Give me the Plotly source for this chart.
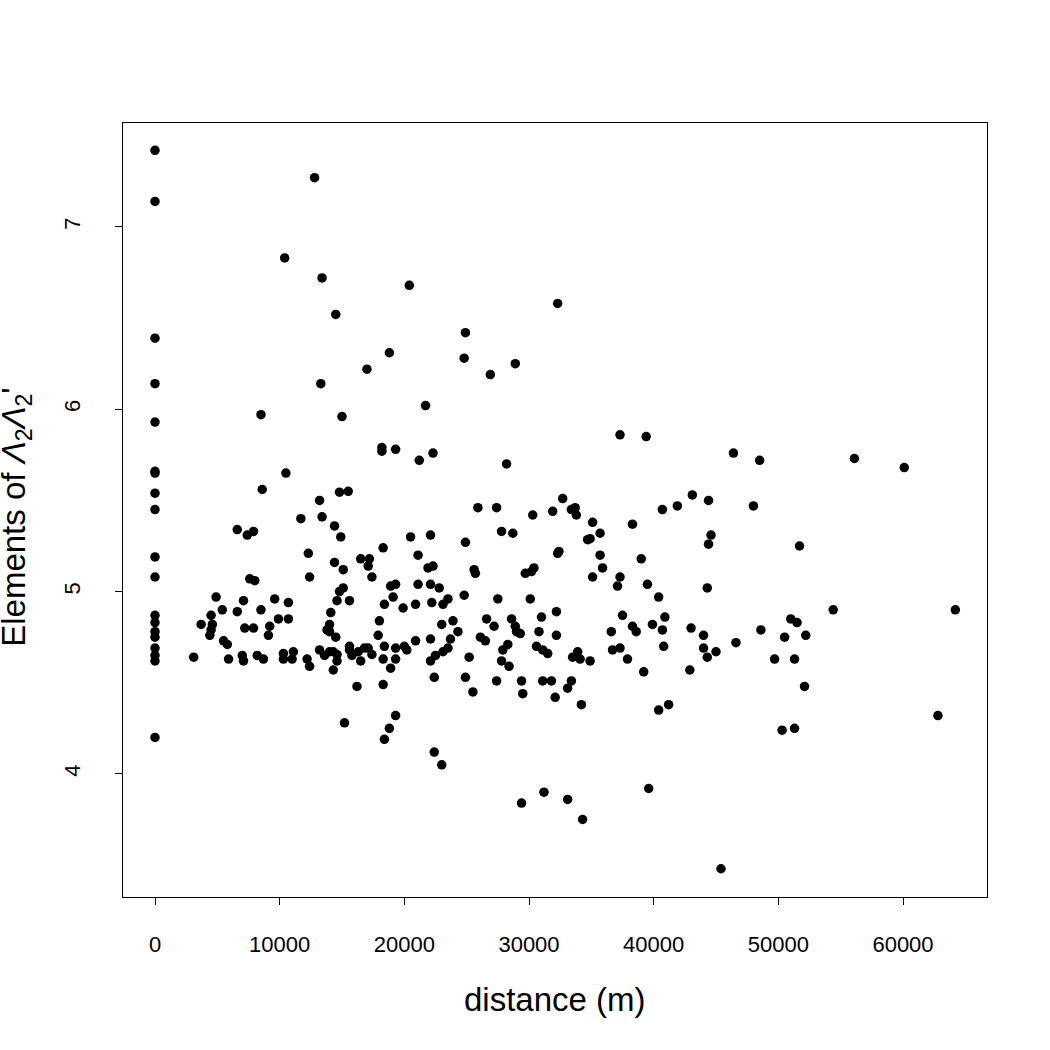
import plotly.graph_objects as go

# distance (m) and element values
dist_zero_y = [7.42, 7.14, 6.39, 6.14, 5.93, 5.66, 5.65, 5.54, 5.45, 5.19, 5.08,
               4.87, 4.83, 4.78, 4.75, 4.69, 4.65, 4.62, 4.20]

pts = [
    (12800, 7.27), (10400, 6.83), (13400, 6.72), (20400, 6.68), (14500, 6.52),
    (18800, 6.31), (17000, 6.22), (13300, 6.14), (8500, 5.97), (15000, 5.96),
    (18200, 5.79), (18200, 5.77), (19300, 5.78), (21200, 5.72), (10500, 5.65),
    (8600, 5.56), (14800, 5.545), (15500, 5.55), (13200, 5.50), (11700, 5.40),
    (13400, 5.41), (14400, 5.36), (14900, 5.30), (6600, 5.34), (7400, 5.31),
    (7900, 5.33), (20500, 5.30), (18300, 5.24), (12300, 5.21), (21100, 5.20),
    (16500, 5.18), (17200, 5.18), (14400, 5.16), (17100, 5.14), (15100, 5.12),
    (7600, 5.07), (8000, 5.06), (12400, 5.08), (17400, 5.08), (21100, 5.04),
    (18900, 5.03), (19300, 5.04), (15100, 5.02), (14800, 5.00), (4900, 4.97),
    (7100, 4.95), (9600, 4.96), (10700, 4.94), (14600, 4.95), (15600, 4.95),
    (19100, 4.97), (18400, 4.93), (19900, 4.91), (20900, 4.93), (5400, 4.90),
    (6600, 4.89), (8500, 4.90), (14100, 4.885), (4500, 4.87), (3700, 4.82),
    (4600, 4.82), (4500, 4.79), (4400, 4.76), (7200, 4.80), (7900, 4.80),
    (9200, 4.81), (9900, 4.85), (10700, 4.85), (9100, 4.76), (14000, 4.82),
    (13800, 4.79), (14000, 4.78), (14500, 4.75), (18000, 4.84), (17900, 4.76),
    (20900, 4.73), (5500, 4.73), (5800, 4.71), (15600, 4.70), (16800, 4.69),
    (17100, 4.69), (18400, 4.70), (19300, 4.69), (20000, 4.70), (11100, 4.67),
    (13200, 4.68), (14000, 4.67), (14300, 4.67),
    (3100, 4.64), (5900, 4.63), (7000, 4.65), (7100, 4.62), (8200, 4.65),
    (8700, 4.63), (10300, 4.66), (10300, 4.63), (11000, 4.63), (12200, 4.63),
    (12400, 4.59), (13600, 4.65), (14600, 4.655), (14600, 4.62), (14300, 4.57),
    (15600, 4.68), (15800, 4.65), (16300, 4.67), (16500, 4.62), (17400, 4.655),
    (18300, 4.63), (18900, 4.58), (19300, 4.63), (20200, 4.68), (22100, 4.74),
    (22200, 4.94), (23100, 4.93), (23500, 4.96), (22100, 5.04), (22800, 5.02),
    (21900, 5.13), (22300, 5.14), (22100, 5.31), (21700, 6.02), (22300, 5.76),
    (23000, 4.82), (23900, 4.84), (24300, 4.78), (24800, 4.98), (24900, 5.27),
    (25600, 5.12), (25700, 5.10), (26100, 4.75), (26500, 4.73), (26600, 4.85),
    (27200, 4.81), (27500, 4.96), (27800, 5.33), (28700, 5.32), (28200, 5.70),
    (25900, 5.46), (27400, 5.46), (22400, 4.53), (22100, 4.62), (22500, 4.65),
    (23100, 4.67), (23500, 4.69), (23700, 4.74), (25200, 4.64), (24900, 4.53),
    (25500, 4.45), (27400, 4.51), (27800, 4.62), (28400, 4.59), (27900, 4.68),
    (28300, 4.71), (28600, 4.85), (28900, 4.81), (29000, 4.78), (29300, 4.77),
    (29400, 4.51), (29500, 4.44), (29700, 5.10), (30200, 5.11), (30400, 5.13),
    (30100, 4.96), (30300, 5.42), (30600, 4.70), (31100, 4.68), (31500, 4.66),
    (31000, 4.86), (30800, 4.78), (31100, 4.51), (31800, 4.51), (31900, 5.44),
    (32100, 4.42), (32200, 4.89), (32200, 4.76), (32300, 5.21), (32400, 5.22),
    (32700, 5.51), (33100, 4.47), (33400, 4.51), (33400, 5.45), (33700, 5.46),
    (33800, 5.42), (33500, 4.64), (33900, 4.67), (34100, 4.63), (34200, 4.38),
    (34700, 5.285), (34900, 5.29), (34900, 4.62), (35100, 5.38), (35100, 5.08),
    (35700, 5.32), (35700, 5.20), (35900, 5.13), (36700, 4.68), (36600, 4.78),
    (37300, 5.08), (37100, 5.03), (37300, 4.69), (37300, 5.86), (37500, 4.87),
    (37900, 4.63), (38300, 5.37), (38300, 4.81), (38600, 4.78), (39000, 5.18),
    (39200, 4.56), (39400, 5.85), (39500, 5.04), (39900, 4.82), (40400, 4.97),
    (40700, 4.79), (40700, 5.45), (40800, 4.70), (40900, 4.86), (41900, 5.47),
    (42900, 4.57), (43000, 4.80), (43100, 5.53), (44000, 4.76), (44000, 4.69),
    (45000, 4.67), (44300, 4.64), (44300, 5.02), (44400, 5.50), (44600, 5.31),
    (44400, 5.26), (46400, 5.76), (46600, 4.72), (48000, 5.47), (48500, 5.72),
    (48600, 4.79), (49700, 4.63), (50500, 4.75), (51000, 4.85), (51500, 4.83),
    (51300, 4.63), (51700, 5.25), (52100, 4.48), (52200, 4.76), (54400, 4.90),
    (56100, 5.73), (60100, 5.68), (62800, 4.32), (64200, 4.90), (40400, 4.35),
    (41200, 4.38),
    (16200, 4.48), (18300, 4.49), (19300, 4.32), (15200, 4.28), (18800, 4.25),
    (18400, 4.19), (22400, 4.12), (23000, 4.05), (29400, 3.84), (31200, 3.90),
    (33100, 3.86), (34300, 3.75), (39600, 3.92), (50300, 4.24), (51300, 4.25),
    (45400, 3.48),
    (32300, 6.58), (24900, 6.42), (24800, 6.28), (28900, 6.25), (26900, 6.19),
]

distance = [0] * len(dist_zero_y) + [p[0] for p in pts]
elements = dist_zero_y + [p[1] for p in pts]

x_ticks = [0, 10000, 20000, 30000, 40000, 50000, 60000]
y_ticks = [4, 5, 6, 7]

fig = go.Figure()
fig.add_trace(go.Scatter(
    x=distance, y=elements, mode="markers",
    marker=dict(color="black", size=9.5, line=dict(width=0)),
    showlegend=False,
))

font_family = "Liberation Sans, Arial, sans-serif"
axis_common = dict(
    showgrid=False, zeroline=False, showline=True, mirror=True,
    linecolor="black", linewidth=1, ticks="outside", ticklen=7,
    tickcolor="black", tickwidth=1,
    tickfont=dict(family=font_family, size=22, color="black"),
)
fig.update_xaxes(range=[-2567, 66737], tickvals=x_ticks,
                 ticktext=[str(v) for v in x_ticks], ticklabelstandoff=21,
                 **axis_common)
fig.update_yaxes(range=[3.325, 7.570], tickvals=y_ticks,
                 ticktext=[str(v) for v in y_ticks], tickangle=-90,
                 ticklabelstandoff=26, **axis_common)

fig.add_annotation(text="distance (m)", xref="paper", yref="paper",
                   x=0.5, y=-0.133, showarrow=False, xanchor="center",
                   yanchor="middle",
                   font=dict(family=font_family, size=33, color="black"))
fig.add_annotation(text="Elements of <i>Λ</i><sub>2</sub><i>Λ</i><sub>2</sub>'",
                   xref="paper", yref="paper", x=-0.1238, y=0.49,
                   showarrow=False, textangle=-90, xanchor="center",
                   yanchor="middle",
                   font=dict(family=font_family, size=33, color="black"))

fig.update_layout(
    width=1050, height=1050,
    margin=dict(l=123, r=63, t=123, b=153),
    plot_bgcolor="white", paper_bgcolor="white",
)
fig.write_html("out.html")
